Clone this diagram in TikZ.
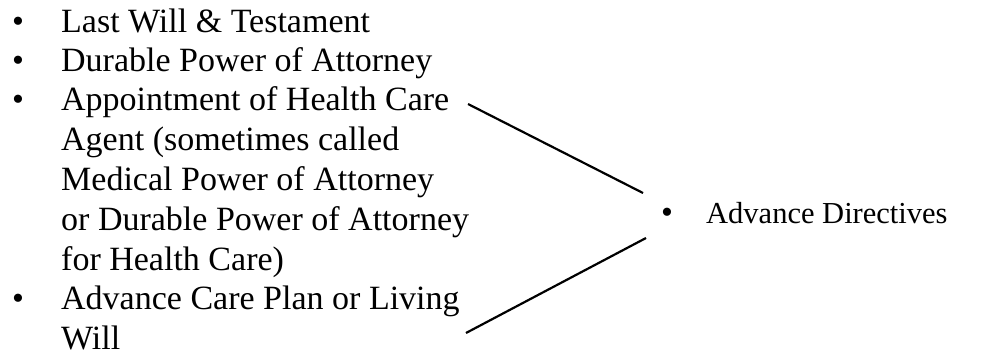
\documentclass[tikz,border=0pt]{standalone}
\usepackage{fontspec}
\setmainfont{Liberation Serif}
\begin{document}
\begin{tikzpicture}[x=1pt,y=-1pt,
  txt/.style={anchor=base west,inner sep=0pt,font=\fontsize{34}{39.5}\selectfont},
  bul/.style={anchor=base,inner sep=0pt,font=\fontsize{34}{39.5}\selectfont},
  conn/.style={line width=2.2pt,line cap=butt}]
\useasboundingbox (0,0) rectangle (999,356);
% left list
\node[bul] (b1) at (18,32) {•};
\node[txt] (l1) at (61,32) {Last Will \& Testament};
\node[bul] (b2) at (18,71.5) {•};
\node[txt] (l2) at (61,71.5) {Durable Power of Attorney};
\node[bul] (b3) at (18,110.5) {•};
\node[txt] (l3) at (61,110.5) {Appointment of Health Care};
\node[txt] (l4) at (61,150) {Agent (sometimes called};
\node[txt] (l5) at (61,190) {Medical Power of Attorney};
\node[txt] (l6) at (61,230) {or Durable Power of Attorney};
\node[txt] (l7) at (61,270) {for Health Care)};
\node[bul] (b4) at (18,309.5) {•};
\node[txt] (l8) at (61,309.5) {Advance Care Plan or Living};
\node[txt] (l9) at (61,349) {Will};
% right item
\node[bul] (b5) at (667,223) {•};
\node[txt,font=\fontsize{30.5}{36}\selectfont] (ad) at (706,223) {Advance Directives};
% connectors
\coordinate (s1) at (468,104);
\coordinate (e1) at (643,193);
\coordinate (s2) at (466,333);
\coordinate (e2) at (646,238);
\draw[conn] (s1) -- (e1);
\draw[conn] (s2) -- (e2);
\end{tikzpicture}
\end{document}
